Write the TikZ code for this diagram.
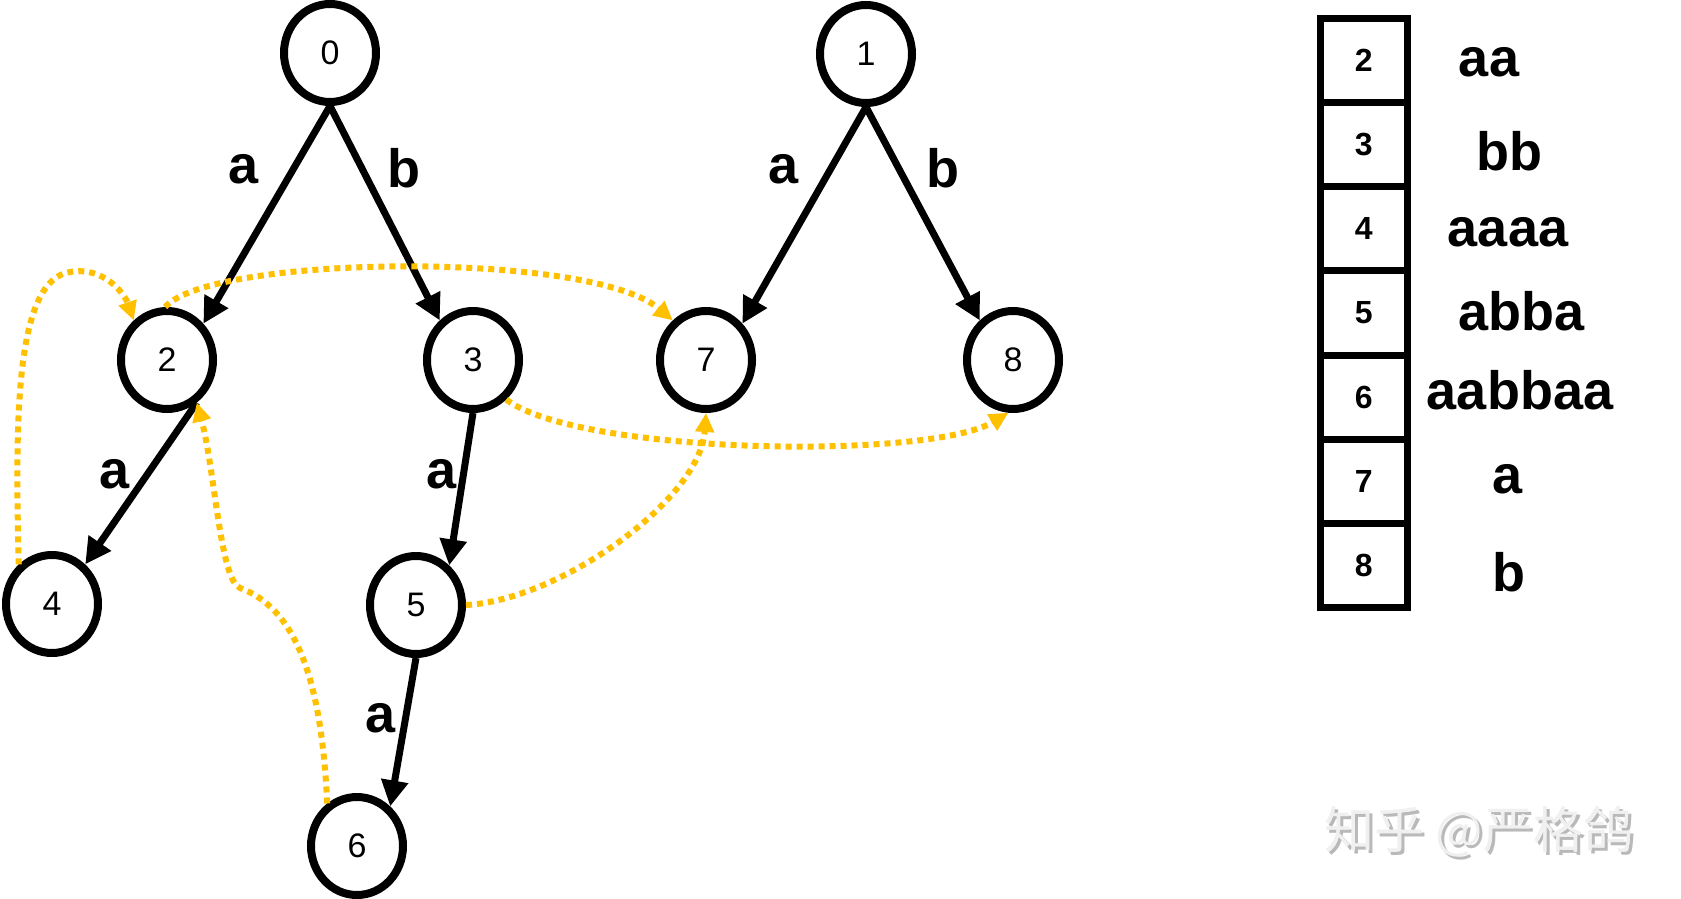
\documentclass[tikz,border=0pt]{standalone}
\usepackage{fontspec}
\setmainfont{Liberation Sans}
\newfontfamily\cjkfont{Noto Sans CJK SC}
\usetikzlibrary{arrows.meta,shapes.geometric}
\definecolor{linkgold}{HTML}{FFC000}
\begin{document}
\begin{tikzpicture}[x=1pt,y=-1pt,
  state/.style={ellipse,draw,line width=8pt,minimum width=92pt,minimum height=98pt,inner sep=0pt,font=\fontsize{34}{34}\selectfont},
  trans/.style={line width=7pt,-{Triangle[length=26pt,width=26pt]}},
  lbl/.style={inner sep=0pt,font=\fontsize{54}{54}\selectfont\bfseries},
  link/.style={draw=linkgold,line width=6pt,dash pattern=on 6pt off 5pt,-{Triangle[length=19pt,width=18pt]}},
  cell/.style={draw,line width=7pt,minimum width=86.5pt,minimum height=84.14pt,inner sep=0pt,font=\fontsize{32}{32}\selectfont\bfseries},
  str/.style={inner sep=0pt,font=\fontsize{54}{54}\selectfont\bfseries}]
\fill[white] (0,0) rectangle (1681,899);
\useasboundingbox (0,0) rectangle (1681,899);

% states
\node[state] (n0) at (330,53) {0};
\node[state] (n1) at (866,54) {1};
\node[state] (n2) at (167,360) {2};
\node[state] (n3) at (473,360) {3};
\node[state] (n7) at (706,360) {7};
\node[state] (n8) at (1013,360) {8};
\node[state] (n4) at (52,604) {4};
\node[state] (n5) at (416,605) {5};
\node[state] (n6) at (357,846) {6};

% transitions
\draw[trans] (n0.south) -- (n2.45);
\draw[trans] (n0.south) -- (n3.130);
\draw[trans] (n1.south) -- (n7.45);
\draw[trans] (n1.south) -- (n8.130);
\draw[trans] (n2.-55) -- (n4.50);
\draw[trans] (n3.south) -- (n5.50);
\draw[trans] (n5.south) -- (n6.50);

\node[lbl] (l02) at (244,169) {a};
\node[lbl] (l03) at (404,168) {b};
\node[lbl] (l17) at (784,169) {a};
\node[lbl] (l18) at (943,168) {b};
\node[lbl] (l24) at (115,474) {a};
\node[lbl] (l35) at (442,474) {a};
\node[lbl] (l56) at (381,718) {a};

% suffix links
\draw[link] (n4.130) .. controls (15,420) and (15,280) .. (70,272) .. controls (105,266) and (125,295) .. (n2.130);
\draw[link] (n2.92) .. controls (210,255) and (590,250) .. (n7.130);
\draw[link] (n3.-50) .. controls (580,455) and (930,460) .. (n8.-95);
\draw[link] (n5.east) .. controls (560,600) and (700,500) .. (n7.south);
\draw[link] (n6.125) .. controls (322,690) and (300,610) .. (240,588) .. controls (220,580) and (215,470) .. (n2.-55);

% table
\node[cell] (c2) at (1363.75,60.57) {2};
\node[cell] (c3) at (1363.75,144.71) {3};
\node[cell] (c4) at (1363.75,228.86) {4};
\node[cell] (c5) at (1363.75,313.00) {5};
\node[cell] (c6) at (1363.75,397.14) {6};
\node[cell] (c7) at (1363.75,481.28) {7};
\node[cell] (c8) at (1363.75,565.43) {8};

\node[str] (s2) at (1489,62) {aa};
\node[str] (s3) at (1509,151) {bb};
\node[str] (s4) at (1508,232) {aaaa};
\node[str] (s5) at (1521,311) {abba};
\node[str] (s6) at (1520,390) {aabbaa};
\node[str] (s7) at (1507,479) {a};
\node[str] (s8) at (1509,572) {b};

% watermark
\node[font=\cjkfont\fontsize{50}{50}\selectfont, text=gray!55] (wmshadow) at (1482,835) {知乎 @严格鸽};
\node[font=\cjkfont\fontsize{50}{50}\selectfont, text=gray!12] (wm) at (1479,832) {知乎 @严格鸽};
\end{tikzpicture}
\end{document}
